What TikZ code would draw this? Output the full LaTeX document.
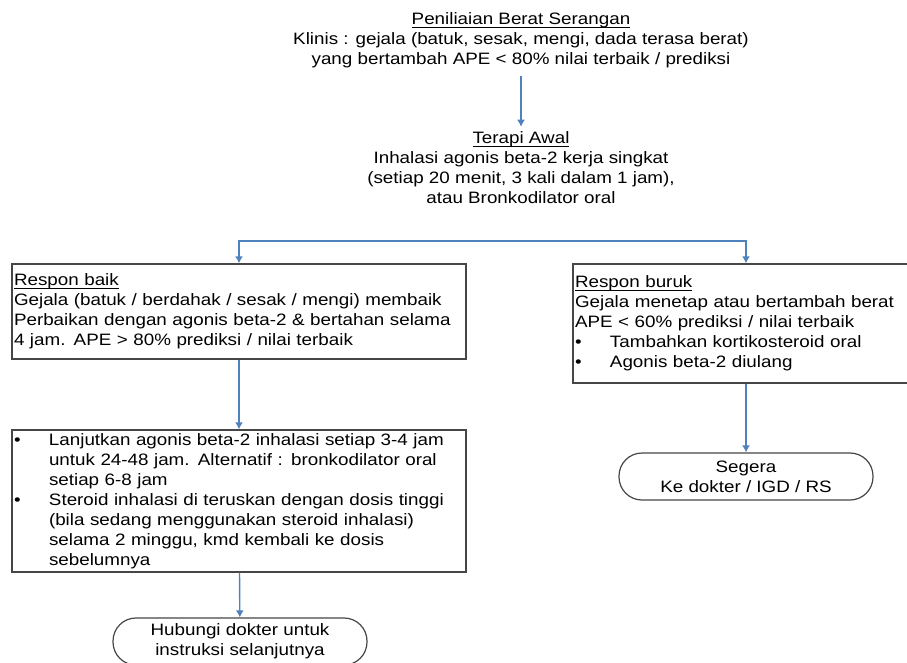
\documentclass[tikz,border=0pt]{standalone}
\usepackage{fontspec}
\setmainfont{Liberation Sans}[FakeStretch=1.14]
\usetikzlibrary{arrows.meta}
\definecolor{panah}{RGB}{79,129,189}
\definecolor{garis}{RGB}{70,70,70}
\newcommand{\blt}{\makebox[35pt][l]{\textbullet}}
\newcommand{\hng}{\hspace*{35pt}}
\newcommand{\jdl}[1]{\setbox0\hbox{#1}\rlap{\rule[-3.2pt]{\wd0}{0.9pt}}\box0}

\begin{document}
\begin{tikzpicture}[x=1pt,y=-1pt,inner sep=2pt,>={Latex[length=7pt,width=8pt]},
  font=\fontsize{16.5}{20}\selectfont,
  kotak/.style={draw=garis,line width=1.4pt,text width=#1,align=left,inner xsep=2pt},
  ujung/.style={draw=garis,line width=1.2pt,rounded corners=23pt,minimum width=254pt,minimum height=47pt,align=center,inner sep=0pt},
  panahbiru/.style={->,draw=panah,line width=1.4pt}]%
\path[use as bounding box,clip] (0,0) rectangle (907,662);
\fill[white] (0,0) rectangle (907,662);
\node [align=center,inner ysep=8pt] (Nilai) at (521,40)
  {\jdl{Peniliaian Berat Serangan}\\
   Klinis : gejala (batuk, sesak, mengi, dada terasa berat)\\
   yang bertambah APE < 80\% nilai terbaik / prediksi};
\node [align=center,inner ysep=5pt] (Terapi) at (521,168)
  {\jdl{Terapi Awal}\\
   Inhalasi agonis beta-2 kerja singkat\\
   (setiap 20 menit, 3 kali dalam 1 jam),\\
   atau Bronkodilator oral};
\coordinate (Cabang) at (521,241);
\node [kotak=450pt,minimum height=95pt] (Baik) at (239,311.5)
  {\jdl{Respon baik}\\
   Gejala (batuk / berdahak / sesak / mengi) membaik\\
   Perbaikan dengan agonis beta-2 \& bertahan selama\\
   4 jam. APE > 80\% prediksi / nilai terbaik};
\node [kotak=342pt,minimum height=119pt] (Buruk) at (746,323.5)
  {\jdl{Respon buruk}\\
   Gejala menetap atau bertambah berat\\
   APE < 60\% prediksi / nilai terbaik\\
   \blt Tambahkan kortikosteroid oral\\
   \blt Agonis beta-2 diulang};
\node [kotak=450pt,minimum height=142pt] (Lanjut) at (239,501)
  {\blt Lanjutkan agonis beta-2 inhalasi setiap 3-4 jam\\
   \hng untuk 24-48 jam. Alternatif : bronkodilator oral\\
   \hng setiap 6-8 jam\\
   \blt Steroid inhalasi di teruskan dengan dosis tinggi\\
   \hng (bila sedang menggunakan steroid inhalasi)\\
   \hng selama 2 minggu, kmd kembali ke dosis\\
   \hng sebelumnya};
\node [ujung] (Hubungi) at (240,641.5) {Hubungi dokter untuk\\instruksi selanjutnya};
\node [ujung] (Segera) at (746,476.5) {Segera\\Ke dokter / IGD / RS};
\draw [panahbiru] (Nilai) -- (Terapi);
\draw [panahbiru] (Cabang) -| (Baik.north);
\draw [panahbiru] (Cabang) -| (Buruk.north);
\draw [panahbiru] (Baik) -- (Lanjut);
\draw [panahbiru] (Lanjut) -- (Hubungi);
\draw [panahbiru] (Buruk) -- (Segera);
\end{tikzpicture}
\end{document}
